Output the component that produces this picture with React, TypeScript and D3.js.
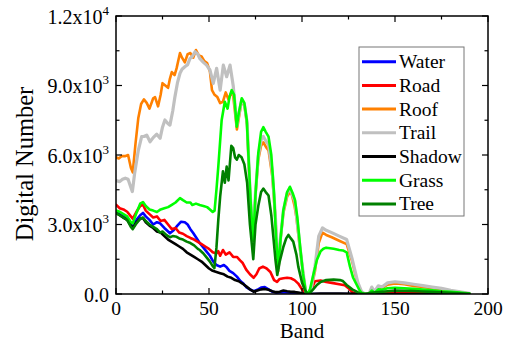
import React from "react";
import * as d3 from "d3";

type P = [number, number];

const seriesNames = ["Water", "Road", "Roof", "Trail", "Shadow", "Grass", "Tree"];
const seriesColors = ["#0000ff", "#ff0000", "#ff8000", "#c0c0c0", "#000000", "#00ff00", "#008000"];

const water: P[] = [[0,3550],[2,3450],[4,3350],[6,3250],[8,3000],[9,2900],[11,3200],[13,3400],[14.5,3500],[16,3350],[18,3200],[20,3000],[22,3100],[23.7,3050],[26,2850],[29,2620],[31,2750],[33,2950],[35,3120],[37,3100],[38.5,3000],[40,2800],[41.6,2620],[43,2450],[45,2200],[47,2000],[48.7,1830],[50.5,1650],[52.3,1400],[54,1250],[56,1180],[58,1250],[59.5,1150],[61,1000],[63,900],[65,750],[67,550],[68.5,450],[70,300],[72,200],[74,120],[76,180],[78,280],[80,300],[82,200],[84,100],[86,60],[90,80],[94,60],[98,30],[101,0],[110,0],[135,0],[190,0]];

const road: P[] = [[0,3850],[2,3700],[4,3650],[6,3550],[8,3350],[9,3250],[11,3550],[13,3800],[14.5,3850],[16,3600],[18,3450],[20,3300],[22,3350],[24,3150],[26,3200],[28,3000],[30,2800],[32,2850],[34,2650],[36,2600],[38,2500],[40,2420],[42,2350],[44,2250],[46,2150],[48,2050],[50,1950],[52,1800],[54,1750],[55,1850],[56,1650],[57.5,1900],[59,1700],[61,1800],[63,1600],[65,1600],[66.7,1450],[68,1350],[70,1050],[72,850],[74,700],[75.5,850],[77,1100],[79,1180],[81,1100],[83,950],[85,600],[86.6,520],[88,650],[90,680],[92,700],[94,680],[96,600],[98,450],[100,200],[101.6,50],[103,0],[105,200],[107,550],[110,580],[113,520],[116,480],[120,420],[123,380],[125,250],[127,80],[129,0],[135,0],[150,40],[170,30],[190,0]];

const roof: P[] = [[0,5900],[1.5,5850],[3,5950],[5,5950],[6.5,6000],[8,5450],[9,5250],[10.5,6500],[12,7600],[13.5,8200],[15,8400],[16.5,8250],[18,8000],[20,8450],[21,8500],[22.6,8100],[24,8600],[25,9100],[26.5,9000],[28,8900],[29,9300],[30,9580],[31.5,9450],[32.6,9750],[34.4,10400],[35.5,10200],[37,10000],[38.5,10350],[40,10400],[41.5,10200],[43,10530],[44.5,10300],[46,10250],[47.5,10050],[49,9970],[50.5,9600],[51.6,8800],[53,8600],[54.5,8500],[56,8240],[57.5,8300],[59,8700],[60.5,8400],[62,8700],[63,8550],[65,7100],[67.5,8300],[69,8150],[70.5,7300],[72,4400],[73.8,2300],[75,4300],[76.5,5800],[78,6400],[79.2,6550],[81,6300],[82,6200],[84,5100],[85.5,3500],[87.3,1000],[88.5,2400],[90,3500],[92,4200],[93.5,4400],[94.5,4300],[96,3800],[97,3300],[98,2600],[99,1900],[101,650],[102,100],[103,0],[105,200],[107,1000],[109,2200],[111,2650],[113,2550],[116,2450],[120,2300],[124,2150],[127,1400],[130,400],[132,80],[134,0],[136,0],[137.5,250],[139,80],[141,300],[143,250],[146,400],[150,450],[155,420],[160,350],[165,300],[170,250],[175,200],[180,130],[185,80],[190,20]];

const trail: P[] = [[0,4900],[2,4850],[3.5,4950],[5,5000],[6.5,4950],[8,4600],[8.8,4420],[10,5200],[12,6200],[13.8,6790],[15,6800],[16.5,6860],[18.3,6570],[20,6750],[21.9,6900],[23.7,6720],[25,7200],[26.3,7510],[28,7350],[29,7290],[30.5,7900],[31.7,8520],[33,9100],[34.4,9530],[35.5,9700],[37,9810],[38.5,9900],[39.8,10170],[41,10250],[42.5,10460],[44,10350],[45,10170],[47,10000],[48.7,9880],[50.5,9670],[52.3,9090],[54.1,9740],[56,8800],[57.7,9880],[59.5,9380],[61.3,9880],[63,9000],[65,7300],[67.5,8350],[69,8200],[70.5,7400],[72,4500],[73.8,2400],[75,4400],[76.5,5950],[78,6650],[79.2,6800],[81,6550],[82,6450],[84,5300],[85.5,3600],[87.3,1050],[88.5,2450],[90,3600],[92,4350],[93.5,4550],[95,4250],[96.2,4000],[98,2700],[99,1950],[101,680],[102,100],[103,0],[105,250],[107,1200],[109,2500],[111,2850],[113,2750],[116,2650],[120,2500],[124,2350],[127,1500],[130,500],[132,100],[134,0],[136,0],[137.5,300],[139,100],[141,350],[143,300],[146,480],[150,530],[155,480],[160,420],[165,360],[170,300],[175,240],[180,160],[185,90],[190,30]];

const shadow: P[] = [[0,3500],[2,3400],[4,3300],[6,3200],[8,2950],[9,2850],[11,3100],[13,3250],[14.5,3280],[16,3100],[18,2950],[20,2850],[22,2700],[24,2650],[26,2500],[28,2350],[30,2250],[32,2150],[34,2050],[36,1950],[38,1800],[40,1700],[42,1600],[44,1500],[46,1400],[48,1250],[50,1100],[52,1000],[54,950],[56,900],[58,850],[60,750],[62,700],[64,600],[66,550],[68,450],[70,330],[72,200],[74,100],[76,150],[78,200],[80,220],[82,180],[84,120],[86,80],[88,100],[90,150],[92,120],[94,100],[96,90],[98,60],[100,30],[103,0],[110,20],[120,20],[130,10],[135,0],[190,0]];

const grass: P[] = [[0,3600],[2,3550],[4,3450],[6,3350],[8,3100],[9,3050],[11,3500],[13,3900],[14.5,3970],[16,3800],[18,3650],[20,3600],[22,3540],[24,3650],[26,3700],[28,3750],[30,3850],[32,3950],[34.4,4140],[36,4050],[38,3950],[40,3950],[41,3840],[43,3900],[45,3840],[47,3800],[49,3750],[50.5,3650],[52,3540],[53,3600],[54,4500],[55,5500],[56.8,7500],[58.5,8300],[60,8000],[61,8500],[62.2,8800],[63.5,8600],[64.9,7220],[66,7800],[67.6,8450],[69,8250],[70.3,7510],[71.5,5500],[72.5,3800],[73.8,2300],[75,4300],[76.5,6080],[78,7000],[79.2,7200],[80.5,7000],[82,6790],[83.5,6000],[85,4300],[86,2500],[87.3,1100],[88.5,2400],[90,3630],[92,4400],[93.5,4630],[95,4350],[96.2,4060],[97.5,3300],[99,2040],[100.5,900],[102,100],[103,0],[104.3,200],[106,800],[108,1470],[110,1850],[111.5,1950],[113,2000],[117,1950],[120,1900],[122,1880],[124,1800],[125.8,1180],[127.5,700],[129.4,400],[131,150],[132,50],[134,0],[136,0],[137.5,150],[139,50],[141,200],[143,180],[146,250],[150,270],[155,250],[160,220],[165,190],[170,160],[175,120],[180,90],[185,60],[190,20]];

const tree: P[] = [[0,3500],[2,3400],[4,3300],[6,3200],[8,2900],[9,2800],[11,3050],[13,3250],[14.5,3300],[16,3150],[18,3000],[20,2900],[22,2800],[23.7,2650],[25,2700],[27,2550],[29,2450],[30.5,2500],[32.6,2470],[34,2400],[36,2350],[38,2260],[40,2200],[42,2100],[44,1950],[45,1900],[47,1750],[49,1550],[50.5,1400],[52,1200],[52.9,1120],[54,2000],[55,3200],[56,4200],[57.5,5300],[58.5,4800],[59.5,5500],[60.5,4900],[62,6400],[63,6300],[64,5900],[65,5800],[66,6000],[67.5,5900],[69,5600],[70.5,4800],[72,3000],[73.8,1500],[75,3000],[76.5,3800],[78,4400],[79.2,4550],[80.5,4400],[82,4250],[83.5,3400],[84.6,2470],[85.7,1500],[86.7,820],[88,1400],[90,2040],[91.5,2400],[92.7,2550],[94,2400],[95.3,2260],[97,1700],[98,1180],[100,500],[101.6,170],[103,0],[104.3,50],[106,200],[108,390],[110,520],[113,600],[117,620],[120.4,600],[122,560],[124,390],[127,200],[129.4,100],[131,30],[134,0],[137,50],[141,80],[146,120],[150,150],[155,140],[160,130],[165,110],[170,90],[175,70],[180,50],[185,30],[190,10]];

const allSeries: P[][] = [water, road, roof, trail, shadow, grass, tree];

const xMajorTicks = [0, 50, 100, 150, 200];
const xMinorTicks = [25, 75, 125, 175];
const yMajorTicks = [0, 3000, 6000, 9000, 12000];
const yMinorTicks = [1500, 4500, 7500, 10500];
const yTickMantissa = ["0.0", "3.0x10", "6.0x10", "9.0x10", "1.2x10"];
const yTickExp = ["", "3", "3", "3", "4"];

const W = 510, H = 345;
const M = { left: 116, right: 488, top: 16, bottom: 294 };

function T(props: any) {
  const { children, ...rest } = props;
  return <text fontFamily="Liberation Serif" style={{ fontFamily: "Liberation Serif" }} {...rest}>{children}</text>;
}

export default function App() {
  const x = d3.scaleLinear().domain([0, 200]).range([M.left, M.right]);
  const y = d3.scaleLinear().domain([0, 12000]).range([M.bottom, M.top]);
  const line = d3.line<P>().x(d => x(d[0])).y(d => y(d[1])).curve(d3.curveLinear);

  const major = 6, minor = 3.5;
  const legendX = 359, legendY = 47, legendW = 105, legendH = 169;
  const legendRow = 23.7;

  return (
    <svg width={W} height={H} style={{ position: "absolute", left: 0, top: 0 }}>
      <defs>
        <clipPath id="plotclip">
          <rect x={M.left} y={M.top} width={M.right - M.left} height={M.bottom - M.top} />
        </clipPath>
      </defs>
      <g clipPath="url(#plotclip)">
        {allSeries.map((s, i) => (
          <path key={i} d={line(s) || ""} fill="none" stroke={seriesColors[i]}
            strokeWidth={i === 3 ? 3.2 : 2.6} strokeLinejoin="round" strokeLinecap="round" />
        ))}
      </g>
      <rect x={M.left} y={M.top} width={M.right - M.left} height={M.bottom - M.top} fill="none" stroke="#000" strokeWidth={1.5} />
      {xMajorTicks.map(t => (
        <g key={"xm" + t}>
          <line x1={x(t)} x2={x(t)} y1={M.bottom} y2={M.bottom - major} stroke="#000" strokeWidth={1.2} />
          <line x1={x(t)} x2={x(t)} y1={M.top} y2={M.top + major} stroke="#000" strokeWidth={1.2} />
          <T x={x(t)} y={315} textAnchor="middle" fontSize={19.5}>{String(t)}</T>
        </g>
      ))}
      {xMinorTicks.map(t => (
        <g key={"xn" + t}>
          <line x1={x(t)} x2={x(t)} y1={M.bottom} y2={M.bottom - minor} stroke="#000" strokeWidth={1.2} />
          <line x1={x(t)} x2={x(t)} y1={M.top} y2={M.top + minor} stroke="#000" strokeWidth={1.2} />
        </g>
      ))}
      {yMajorTicks.map((t, i) => (
        <g key={"ym" + t}>
          <line x1={M.left} x2={M.left + major} y1={y(t)} y2={y(t)} stroke="#000" strokeWidth={1.2} />
          <line x1={M.right} x2={M.right - major} y1={y(t)} y2={y(t)} stroke="#000" strokeWidth={1.2} />
          <T x={109} y={y(t) + 7.5} textAnchor="end" fontSize={20}>
            {yTickMantissa[i]}
            {yTickExp[i] ? <tspan fontSize={13} dy={-9}>{yTickExp[i]}</tspan> : null}
          </T>
        </g>
      ))}
      {yMinorTicks.map(t => (
        <g key={"yn" + t}>
          <line x1={M.left} x2={M.left + minor} y1={y(t)} y2={y(t)} stroke="#000" strokeWidth={1.2} />
          <line x1={M.right} x2={M.right - minor} y1={y(t)} y2={y(t)} stroke="#000" strokeWidth={1.2} />
        </g>
      ))}
      <T x={(M.left + M.right) / 2} y={338} textAnchor="middle" fontSize={21}>Band</T>
      <T transform="translate(33, 164) rotate(-90)" textAnchor="middle" fontSize={24.5}>Digital Number</T>
      <rect x={legendX} y={legendY} width={legendW} height={legendH} fill="#fff" stroke="#777" strokeWidth={1} />
      {seriesNames.map((n, i) => {
        const cy = 61.7 + i * legendRow;
        return (
          <g key={n}>
            <line x1={362} x2={396} y1={cy} y2={cy} stroke={seriesColors[i]} strokeWidth={3} />
            <T x={399} y={cy + 6.5} fontSize={19.5}>{n}</T>
          </g>
        );
      })}
    </svg>
  );
}
